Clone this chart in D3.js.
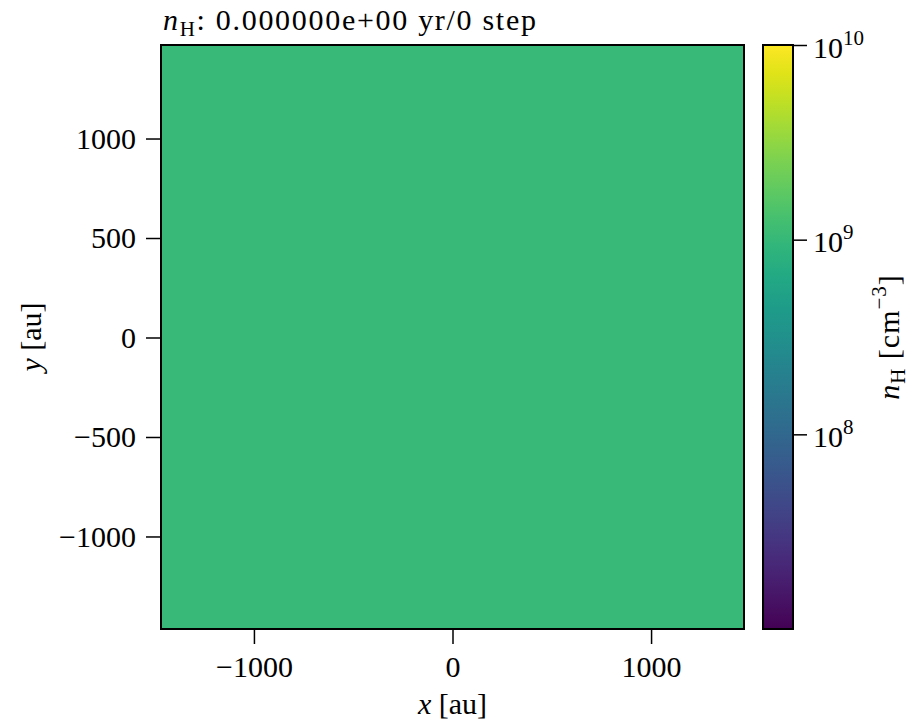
<!DOCTYPE html>
<html>
<head>
<meta charset="utf-8">
<script src="https://cdn.jsdelivr.net/npm/d3@7"></script>
<style>
  body { margin: 0; background: #fff; }
  text { font-family: "Liberation Serif", "DejaVu Serif", serif; fill: #000; }
</style>
</head>
<body>
<div id="chart"></div>
<script>
// data
var xExtent = [-1468, 1468];
var yExtent = [-1465, 1470];
var xTicks = [-1000, 0, 1000];
var yTicks = [-1000, -500, 0, 500, 1000];
var densityDomain = [1e7, 1e10];
var cbTicks = [1e8, 1e9, 1e10];
var cells = [{ x0: -1468, x1: 1468, y0: -1465, y1: 1470, n: 1.05e9 }];
var timeYr = "0.000000e+00";
var step = 0;

var W = 912, H = 724;
var plot = { left: 161, right: 744, top: 45, bottom: 629 };
var cb = { left: 763, right: 793 };

var svg = d3.select("#chart").append("svg")
    .attr("width", W)
    .attr("height", H);

var xScale = d3.scaleLinear().domain(xExtent).range([plot.left, plot.right]);
var yScale = d3.scaleLinear().domain(yExtent).range([plot.bottom, plot.top]);
var cScale = d3.scaleLog().domain(densityDomain).range([plot.bottom, plot.top]);
var color = d3.scaleSequentialLog(d3.interpolateViridis).domain(densityDomain);

// image cells
svg.selectAll(".cell")
    .data(cells)
    .enter().append("rect")
    .attr("class", "cell")
    .attr("x", function(d) { return xScale(d.x0); })
    .attr("y", function(d) { return yScale(d.y1); })
    .attr("width", function(d) { return xScale(d.x1) - xScale(d.x0); })
    .attr("height", function(d) { return yScale(d.y0) - yScale(d.y1); })
    .attr("fill", function(d) { return color(d.n); });

// axes
var fs = 30, fsSmall = 21;
var xAxis = svg.append("g")
    .attr("transform", "translate(0," + plot.bottom + ")")
    .call(d3.axisBottom(xScale).tickValues(xTicks).tickSize(15).tickPadding(12).tickFormat(d3.format("d")));
var yAxis = svg.append("g")
    .attr("transform", "translate(" + plot.left + ",0)")
    .call(d3.axisLeft(yScale).tickValues(yTicks).tickSize(15).tickPadding(10).tickFormat(d3.format("d")));

[xAxis, yAxis].forEach(function(a) {
    a.select(".domain").remove();
    a.selectAll(".tick line").attr("stroke", "#000").attr("stroke-width", 1.5);
    a.selectAll(".tick text").style("font-size", fs + "px")
        .style("font-family", "'Liberation Serif', serif").attr("fill", "#000");
});

svg.append("rect")
    .attr("x", plot.left).attr("y", plot.top)
    .attr("width", plot.right - plot.left).attr("height", plot.bottom - plot.top)
    .attr("fill", "none").attr("stroke", "#000").attr("stroke-width", 2);

// colorbar
var defs = svg.append("defs");
var grad = defs.append("linearGradient")
    .attr("id", "cbgrad")
    .attr("x1", 0).attr("y1", 1).attr("x2", 0).attr("y2", 0);
d3.range(0, 1.0001, 0.05).forEach(function(t) {
    grad.append("stop")
        .attr("offset", t)
        .attr("stop-color", d3.interpolateViridis(t));
});
svg.append("rect")
    .attr("x", cb.left).attr("y", plot.top)
    .attr("width", cb.right - cb.left).attr("height", plot.bottom - plot.top)
    .attr("fill", "url(#cbgrad)")
    .attr("stroke", "#000").attr("stroke-width", 2);

var cbAxis = svg.append("g")
    .attr("transform", "translate(" + cb.right + ",0)")
    .call(d3.axisRight(cScale).tickValues(cbTicks).tickSize(14).tickFormat(""));
cbAxis.select(".domain").remove();
cbAxis.selectAll(".tick line").attr("stroke", "#000").attr("stroke-width", 1.5);
cbAxis.selectAll(".tick").each(function(d) {
    var t = d3.select(this).append("text")
        .attr("x", 20).attr("y", 12)
        .attr("text-anchor", "start")
        .style("font-size", fs + "px");
    t.append("tspan").text("10");
    t.append("tspan").attr("dy", -13).style("font-size", fsSmall + "px").text(Math.round(Math.log10(d)));
});

// colorbar label
var cbl = svg.append("text")
    .attr("transform", "translate(" + 899 + "," + ((plot.top + plot.bottom) / 2) + ") rotate(-90)")
    .attr("text-anchor", "middle")
    .style("font-size", fs + "px")
    .style("letter-spacing", "1px");
cbl.append("tspan").style("font-style", "italic").text("n");
cbl.append("tspan").attr("dy", 6).style("font-size", fsSmall + "px").text("H");
cbl.append("tspan").attr("dy", -6).text(" [cm");
cbl.append("tspan").attr("dy", -13).style("font-size", fsSmall + "px").text("\u22123");
cbl.append("tspan").attr("dy", 13).text("]");

// axis labels
var xl = svg.append("text")
    .attr("x", (plot.left + plot.right) / 2).attr("y", 714)
    .attr("text-anchor", "middle")
    .style("font-size", fs + "px");
xl.append("tspan").style("font-style", "italic").text("x");
xl.append("tspan").text(" [au]");

var yl = svg.append("text")
    .attr("transform", "translate(41," + ((plot.top + plot.bottom) / 2) + ") rotate(-90)")
    .attr("text-anchor", "middle")
    .style("font-size", fs + "px");
yl.append("tspan").style("font-style", "italic").text("y");
yl.append("tspan").text(" [au]");

// title
var title = svg.append("text")
    .attr("x", plot.left + 2).attr("y", 30)
    .style("font-size", fs + "px")
    .style("letter-spacing", "1.7px");
title.append("tspan").style("font-style", "italic").text("n");
title.append("tspan").attr("dy", 6).style("font-size", fsSmall + "px").text("H");
title.append("tspan").attr("dy", -6).text(": " + timeYr + " yr/" + step + " step");
</script>
</body>
</html>
